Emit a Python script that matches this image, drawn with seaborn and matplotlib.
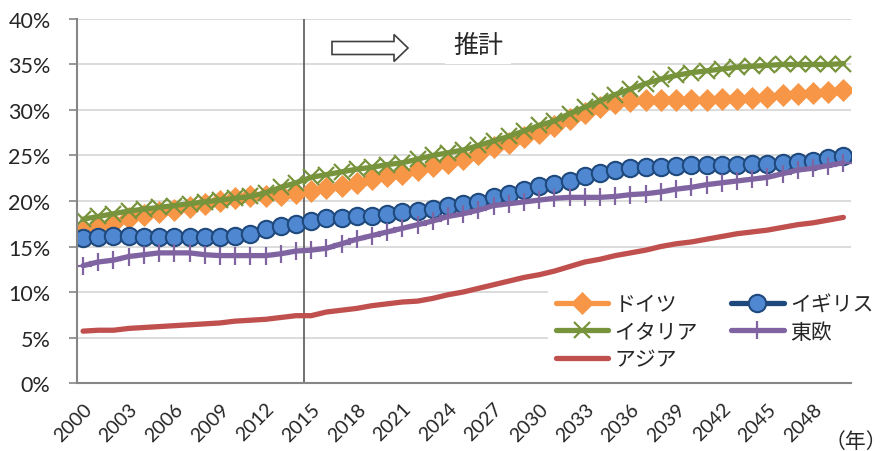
import matplotlib
matplotlib.use("Agg")
import matplotlib.pyplot as plt
import matplotlib.patches as mpatches
from matplotlib.transforms import IdentityTransform
from matplotlib.ticker import FuncFormatter
import pandas as pd
import seaborn as sns

# ---- data (share of population, %) ----
years = list(range(2000, 2051))

germany = [16.7, 17.2, 17.6, 18.1, 18.5, 18.8, 19.0, 19.3, 19.7, 20.0,
           20.3, 20.5, 20.6, 20.7, 20.9, 21.1, 21.4, 21.7, 22.0, 22.4,
           22.7, 23.0, 23.4, 23.9, 24.2, 24.6, 25.2, 25.9, 26.4, 27.0,
           27.5, 28.2, 29.0, 29.7, 30.3, 30.8, 31.0, 31.1, 31.1, 31.1,
           31.1, 31.1, 31.2, 31.2, 31.3, 31.4, 31.6, 31.8, 31.9, 32.0, 32.2]

uk = [15.9, 16.0, 16.1, 16.1, 16.0, 16.0, 16.0, 16.0, 16.0, 16.0,
      16.2, 16.4, 16.9, 17.3, 17.5, 17.8, 18.1, 18.1, 18.3, 18.4,
      18.6, 18.8, 18.9, 19.1, 19.4, 19.7, 19.9, 20.4, 20.8, 21.2,
      21.6, 21.9, 22.2, 22.7, 23.1, 23.4, 23.6, 23.7, 23.7, 23.9,
      24.0, 24.0, 24.0, 24.0, 24.1, 24.1, 24.2, 24.3, 24.4, 24.7, 24.9]

italy = [18.0, 18.3, 18.6, 18.9, 19.1, 19.3, 19.5, 19.7, 19.9, 20.1,
         20.3, 20.5, 20.9, 21.5, 22.0, 22.6, 22.9, 23.2, 23.5, 23.7,
         24.0, 24.2, 24.6, 25.0, 25.3, 25.6, 26.1, 26.6, 27.1, 27.7,
         28.3, 28.8, 29.6, 30.3, 31.0, 31.7, 32.3, 32.9, 33.4, 33.8,
         34.1, 34.3, 34.5, 34.7, 34.8, 34.9, 35.0, 35.0, 35.0, 35.0, 35.1]

east_europe = [12.9, 13.3, 13.5, 13.9, 14.1, 14.3, 14.3, 14.3, 14.1, 14.0,
               14.0, 14.0, 14.0, 14.2, 14.5, 14.6, 14.8, 15.3, 15.8, 16.2,
               16.6, 17.0, 17.4, 17.8, 18.3, 18.6, 19.0, 19.5, 19.7, 19.9,
               20.1, 20.3, 20.4, 20.4, 20.4, 20.5, 20.7, 20.8, 21.0, 21.3,
               21.5, 21.8, 22.0, 22.2, 22.4, 22.6, 23.0, 23.4, 23.6, 23.9, 24.2]

asia = [5.7, 5.8, 5.8, 6.0, 6.1, 6.2, 6.3, 6.4, 6.5, 6.6,
        6.8, 6.9, 7.0, 7.2, 7.4, 7.4, 7.8, 8.0, 8.2, 8.5,
        8.7, 8.9, 9.0, 9.3, 9.7, 10.0, 10.4, 10.8, 11.2, 11.6,
        11.9, 12.3, 12.8, 13.3, 13.6, 14.0, 14.3, 14.6, 15.0, 15.3,
        15.5, 15.8, 16.1, 16.4, 16.6, 16.8, 17.1, 17.4, 17.6, 17.9, 18.2]

tick_years = list(range(2000, 2049, 3))

df = pd.DataFrame({"year": years, "ドイツ": germany, "イギリス": uk,
                   "イタリア": italy, "東欧": east_europe, "アジア": asia})

# ---- style ----
sns.set_theme(style="white")
plt.rcParams["font.family"] = ["Lato", "Noto Sans CJK JP"]

fig = plt.figure(figsize=(8.88, 4.52), dpi=100)
ax = fig.add_axes([0.0867, 0.1504, 0.8716, 0.8054])

# series drawn in Excel order (later ones on top)
series_style = {
    "ドイツ": dict(color="#F79646", marker="D", markersize=11.5,
                 markeredgecolor="#F79646", markeredgewidth=0.5),
    "イギリス": dict(color="#1F497D", marker="o", markersize=12.5,
                   markerfacecolor="#4F88D0", markeredgecolor="#1F497D",
                   markeredgewidth=1.5),
    "イタリア": dict(color="#77933C", marker="x", markersize=11.5,
                   markeredgecolor="#77933C", markeredgewidth=1.6),
    "東欧": dict(color="#8064A2", marker="+", markersize=12.5,
               markeredgecolor="#8064A2", markeredgewidth=1.6),
    "アジア": dict(color="#C0504D", marker=None),
}
for name, st in series_style.items():
    sns.lineplot(data=df, x="year", y=name, ax=ax, label=name, linewidth=3.8, **st)

ax.set_xlim(1999.6, 2050.5)
ax.set_ylim(0, 40)
ax.set_yticks(range(0, 41, 5))
ax.yaxis.set_major_formatter(FuncFormatter(lambda v, p: f"{v:.0f}%"))
ax.set_xticks(tick_years)
ax.set_xticklabels([str(y) for y in tick_years], rotation=45, ha="right",
                   rotation_mode="anchor", fontsize=14)
ax.tick_params(axis="y", labelsize=15.5, length=6, width=1.2, color="#868686",
               left=True, pad=13)
ax.tick_params(axis="x", length=0, pad=12)
ax.set_xlabel("")
ax.set_ylabel("")

ax.yaxis.grid(True, color="#d9d9d9", linewidth=1.3)
ax.set_axisbelow(True)
for s in ["top", "right"]:
    ax.spines[s].set_visible(False)
for s in ["left", "bottom"]:
    ax.spines[s].set_color("#868686")
    ax.spines[s].set_linewidth(1.5)

# projection boundary
ax.axvline(2014.5, color="#595959", linewidth=1.2, zorder=1)

# outline arrow + 推計 label
arrow = mpatches.FancyArrow(332, 452 - 49, 76, 0, width=13, head_width=27,
                            head_length=14, length_includes_head=True,
                            facecolor="white", edgecolor="#404040", linewidth=1.2,
                            transform=IdentityTransform())
fig.add_artist(arrow)
fig.text(478 / 888, 1 - 45 / 452, "推計", fontsize=18, ha="center", va="center",
         bbox=dict(facecolor="white", edgecolor="none", pad=6))

fig.text(887 / 888, 1 - 442 / 452, "（年）", fontsize=15, ha="right", va="center")

# legend: 2 columns, row order like Excel
handles, labels = ax.get_legend_handles_labels()
order = ["ドイツ", "イタリア", "アジア", "イギリス", "東欧"]
hmap = dict(zip(labels, handles))
ax.legend([hmap[k] for k in order], order, ncol=2, loc="upper left",
          bbox_to_anchor=(0.595, 0.295), frameon=True, facecolor="white",
          edgecolor="none", framealpha=1, fontsize=15, handlelength=2.5,
          columnspacing=1.6, labelspacing=0.35, borderpad=0.4, handletextpad=0.3)

fig.savefig("out.png", dpi=100)
